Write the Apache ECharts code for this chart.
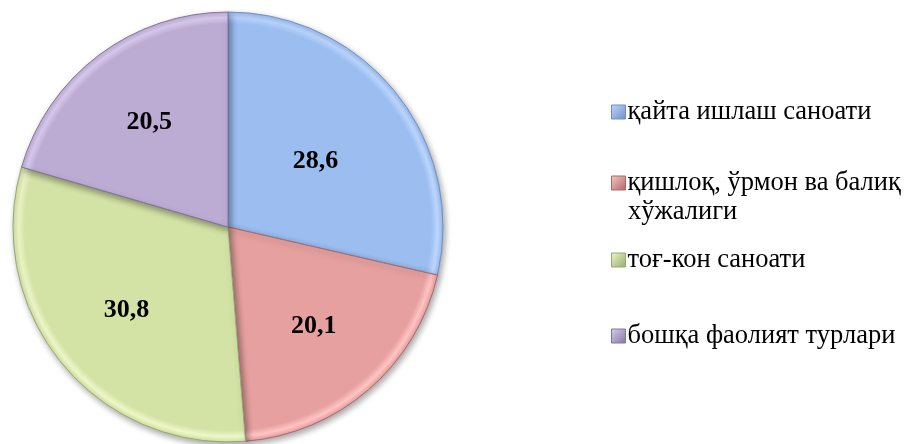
<!DOCTYPE html>
<html>
<head>
<meta charset="utf-8">
<script src="https://cdn.jsdelivr.net/npm/echarts@6/dist/echarts.min.js"></script>
<style>
	html, body { margin: 0; padding: 0; background: #fff; }
	#pieDiv { width: 907px; height: 444px; }
</style>
</head>
<body>
<div id="pieDiv"></div>
<script>
const categories = ['қайта ишлаш саноати', 'қишлоқ, ўрмон ва балиқ хўжалиги', 'тоғ-кон саноати', 'бошқа фаолият турлари'];
const shares = [28.6, 20.1, 30.8, 20.5];
const fills = ['#9bbdf0', '#e6a09f', '#d3e2a5', '#bcacd4'];
const lights = ['#bcd6ff', '#ffc4c3', '#eef8c8', '#dccdf2'];
const edges = ['#6f8fc4', '#a86a69', '#97a872', '#84759f'];

pieInit = () => {
	let pieChart = echarts.init(document.getElementById('pieDiv'));
	let cx = 228, cy = 227, R = 215;
	let legendTops = [92, 163, 240, 316];
	let legends = categories.map((name, i) => ({
		orient: 'vertical',
		left: 606,
		top: legendTops[i],
		itemWidth: 14,
		itemHeight: 14,
		itemGap: 0,
		icon: 'rect',
		selectedMode: false,
		data: [{
			name: name,
			itemStyle: {
				color: new echarts.graphic.LinearGradient(0, 0, 1, 1, [{
					offset: 0,
					color: lights[i]
				}, {
					offset: 1,
					color: edges[i]
				}]),
				borderColor: edges[i],
				borderWidth: 1
			}
		}],
		formatter: function(n) {
			return n === categories[1] ? 'қишлоқ, ўрмон ва балиқ' : n;
		},
		textStyle: {
			fontFamily: 'Liberation Serif',
			fontSize: 26.5,
			lineHeight: 30,
			color: '#000',
			padding: [0, 0, 0, -3]
		}
	}));
	let pieOption = {
		animation: false,
		legend: legends,
		graphic: [{
			type: 'text',
			left: 628,
			top: 199,
			style: {
				text: 'хўжалиги',
				font: '26.5px "Liberation Serif"',
				fill: '#000'
			}
		}],
		series: [{
			type: 'pie',
			center: [cx, cy],
			radius: R,
			startAngle: 90,
			clockwise: true,
			label: { show: false },
			labelLine: { show: false },
			emphasis: { disabled: true },
			data: categories.map((name, i) => ({
				name: name,
				value: shares[i],
				itemStyle: {
					color: new echarts.graphic.RadialGradient(cx, cy, R, [{
						offset: 0,
						color: fills[i]
					}, {
						offset: 0.945,
						color: fills[i]
					}, {
						offset: 0.975,
						color: lights[i]
					}, {
						offset: 1,
						color: fills[i]
					}], true),
					borderColor: edges[i],
					borderWidth: 1,
					shadowColor: 'rgba(0,0,0,0.35)',
					shadowBlur: 6,
					shadowOffsetX: 2,
					shadowOffsetY: 3
				}
			}))
		}, {
			// label layer: same angles, wider radius so the labels sit further out
			type: 'pie',
			center: [cx, cy],
			radius: 256,
			startAngle: 90,
			clockwise: true,
			silent: true,
			itemStyle: { color: 'rgba(0,0,0,0)' },
			label: {
				show: true,
				position: 'inside',
				fontFamily: 'Liberation Serif',
				fontWeight: 'bold',
				fontSize: 26,
				color: '#000',
				formatter: function(p) {
					return p.value.toFixed(1).replace('.', ',');
				}
			},
			labelLine: { show: false },
			emphasis: { disabled: true },
			data: categories.map((name, i) => ({
				name: name,
				value: shares[i],
				label: i === 0 ? { offset: [-15, 16] } : {}
			}))
		}]
	};
	pieChart.setOption(pieOption);
}
pieInit();
</script>
</body>
</html>
